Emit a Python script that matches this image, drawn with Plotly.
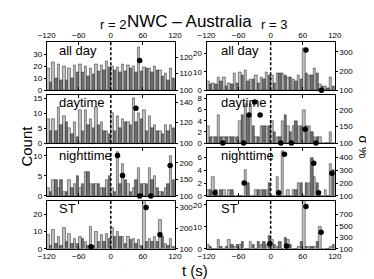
import plotly.graph_objects as go

# ---------------- data ----------------
bin_t = [-115, -105, -95, -85, -75, -65, -55, -45, -35, -25, -15, -5,
         5, 15, 25, 35, 45, 55, 65, 75, 85, 95, 105, 115]
x_ticks = [-120, -60, 0, 60, 120]
panel_names = ["all day", "daytime", "nighttime", "ST"]
column_titles = ["r = 2", "r = 3"]

# r = 2, all day
allday_r2_light = [18, 23, 22, 20, 18, 21, 22, 20, 18, 22, 21, 24, 20, 19, 22, 21, 20, 36, 19, 18, 20, 17, 14, 18]
allday_r2_dark = [7, 10, 8, 8, 10, 15, 15, 12, 13, 16, 17, 19, 17, 15, 16, 18, 15, 16, 18, 15, 17, 12, 8, 10]
allday_r2_sig_t = [54]
allday_r2_sig = [118]
# r = 3, all day
allday_r3_light = [5, 4, 7, 7, 4, 9, 10, 11, 6, 8, 7, 10, 8, 9, 9, 7, 6, 8, 23, 8, 12, 3, 2, 7]
allday_r3_dark = [3, 3, 5, 2, 3, 4, 8, 5, 6, 4, 6, 8, 4, 9, 8, 7, 5, 6, 9, 8, 9, 2, 1, 2]
allday_r3_sig_t = [66, 95]
allday_r3_sig = [310, 100]
# r = 2, daytime
day_r2_light = [8, 8, 12, 9, 5, 7, 11, 11, 8, 12, 7, 4, 10, 9, 8, 7, 15, 10, 11, 9, 6, 4, 6, 6]
day_r2_dark = [4, 4, 6, 7, 3, 2, 4, 6, 5, 6, 4, 3, 4, 5, 7, 6, 7, 8, 4, 5, 4, 3, 4, 5]
day_r2_sig_t = [47]
day_r2_sig = [134]
# r = 3, daytime
day_r3_light = [3, 1, 5, 1, 1, 1, 4, 7, 7, 1, 3, 3, 4, 1, 4, 3, 3, 3, 6, 3, 1, 1, 0, 2]
day_r3_dark = [1, 1, 1, 1, 1, 1, 5, 5, 3, 1, 3, 3, 2, 1, 5, 2, 4, 3, 3, 2, 1, 0, 0, 0]
day_r3_sig_t = [-89.5, -50.7, -40.6, -29.9, -19.7, 19.1, 38.8, 64.5, 84.7]
day_r3_sig = [100, 100, 185, 224, 185, 100, 100, 142, 100]
# r = 2, nighttime
night_r2_light = [2, 4, 2, 1, 4, 3, 2, 6, 3, 3, 2, 4, 2, 11, 8, 3, 2, 7, 3, 7, 5, 1, 2, 10]
night_r2_dark = [1, 4, 4, 1, 2, 5, 3, 6, 3, 3, 2, 5, 1, 3, 4, 1, 4, 3, 3, 4, 2, 1, 3, 4]
night_r2_sig_t = [12.5, 22, 54, 75, 111]
night_r2_sig = [222, 162, 100, 100, 192]
# r = 3, nighttime
night_r3_light = [1, 3, 0, 1, 1, 0, 0, 4, 0, 1, 1, 1, 0, 3, 7, 1, 1, 2, 0, 2, 3, 0, 1, 5]
night_r3_dark = [1, 1, 1, 0, 1, 0, 0, 2, 0, 1, 1, 2, 0, 0, 0, 0, 1, 2, 2, 6, 2, 0, 0, 4]
night_r3_sig_t = [-104.4, -49.5, 15, 25.7, 80.6, 89.6, 114.6]
night_r3_sig = [125, 200, 125, 425, 355, 125, 278]
# r = 2, ST
st_r2_light = [8, 11, 7, 12, 9, 6, 7, 4, 13, 10, 8, 9, 12, 10, 7, 7, 6, 5, 30, 6, 7, 17, 3, 6]
st_r2_dark = [2, 3, 2, 4, 3, 3, 6, 2, 2, 4, 4, 6, 7, 7, 3, 5, 3, 2, 4, 4, 4, 7, 2, 1]
st_r2_sig_t = [-37, 66, 92]
st_r2_sig = [110, 300, 168]
# r = 3, ST
st_r3_light = [2, 0, 4, 0, 4, 1, 2, 0, 3, 0, 2, 2, 4, 1, 0, 4, 0, 1, 25, 1, 1, 10, 0, 1]
st_r3_dark = [1, 0, 1, 1, 2, 2, 3, 0, 2, 3, 3, 6, 2, 3, 5, 2, 0, 3, 1, 1, 3, 0, 0, 2]
st_r3_sig_t = [-1.5, 29.8, 66, 94.3]
st_r3_sig = [185, 146, 840, 390]

# axis ranges / ticks (count axis, sigma axis)
count_range = [[0, 40], [0, 26], [0, 16], [0, 8.6], [0, 12], [0, 7.5], [0, 28], [0, 21.8]]
count_ticks = [[0, 10, 20, 30], [0, 10, 20], [0, 5, 10, 15], [0, 2, 4, 6, 8],
               [0, 5, 10], [0, 2, 4, 6], [0, 10, 20], [0, 10, 20]]
sig_range = [[100, 129], [100, 350], [100, 147], [100, 245], [100, 245], [100, 475], [100, 333], [100, 940]]
sig_ticks = [[100, 110, 120], [100, 200, 300], [100, 120, 140], [100, 150, 200],
             [100, 150, 200], [100, 200, 300, 400], [100, 200, 300], [100, 300, 500, 700]]

panels = [
    (allday_r2_light, allday_r2_dark, allday_r2_sig_t, allday_r2_sig),
    (allday_r3_light, allday_r3_dark, allday_r3_sig_t, allday_r3_sig),
    (day_r2_light, day_r2_dark, day_r2_sig_t, day_r2_sig),
    (day_r3_light, day_r3_dark, day_r3_sig_t, day_r3_sig),
    (night_r2_light, night_r2_dark, night_r2_sig_t, night_r2_sig),
    (night_r3_light, night_r3_dark, night_r3_sig_t, night_r3_sig),
    (st_r2_light, st_r2_dark, st_r2_sig_t, st_r2_sig),
    (st_r3_light, st_r3_dark, st_r3_sig_t, st_r3_sig),
]

# ---------------- layout geometry ----------------
W, H = 374, 279
col_px = [(31, 165), (198, 332)]
label_dx = [12, 14]
row_px = [(34, 83), (88, 137), (142, 191), (196, 245)]
FONT = "Liberation Sans, Arial, sans-serif"

fig = go.Figure()
layout = dict(
    width=W, height=H, margin=dict(l=0, r=0, t=0, b=0),
    paper_bgcolor="white", plot_bgcolor="white", showlegend=False,
    font=dict(family=FONT, size=8, color="black"),
)
shapes = []
annotations = []

for p, (light, dark, st, sv) in enumerate(panels):
    row, col = p // 2, p % 2
    xn = "" if p == 0 else str(p + 1)
    yl = 2 * p + 1
    yr = 2 * p + 2
    yl_n = "" if yl == 1 else str(yl)
    x0, x1 = col_px[col]
    top, bot = row_px[row]
    xdom = [x0 / W, x1 / W]
    ydom = [1 - bot / H, 1 - top / H]

    fig.add_trace(go.Bar(x=bin_t, y=light, xaxis="x" + xn, yaxis="y" + yl_n,
                         offset=-4.8, width=4.6,
                         marker=dict(color="#c2c2c2", line=dict(color="#222", width=0.5))))
    fig.add_trace(go.Bar(x=bin_t, y=dark, xaxis="x" + xn, yaxis="y" + yl_n,
                         offset=0.2, width=4.6,
                         marker=dict(color="#707070", line=dict(color="#222", width=0.5))))
    fig.add_trace(go.Scatter(x=st, y=sv, xaxis="x" + xn, yaxis="y" + str(yr),
                             mode="markers", cliponaxis=False,
                             marker=dict(color="black", size=5.5)))

    xa = dict(domain=xdom, anchor="y" + yl_n, range=[-120, 120], tickvals=x_ticks,
              showline=True, linecolor="black", linewidth=0.8, mirror="ticks",
              ticks="inside", ticklen=3, tickcolor="black", showgrid=False, zeroline=False,
              tickfont=dict(size=8, family=FONT))
    if row == 0:
        xa.update(side="top", showticklabels=True)
    elif row == 3:
        xa.update(side="bottom", showticklabels=True)
    else:
        xa.update(showticklabels=False)
    layout["xaxis" + xn] = xa
    layout["yaxis" + yl_n] = dict(
        domain=ydom, anchor="x" + xn, range=count_range[p], tickvals=count_ticks[p],
        showline=True, linecolor="black", linewidth=0.8, ticks="outside", ticklen=2,
        tickcolor="black", showgrid=False, zeroline=False, tickfont=dict(size=8, family=FONT))
    layout["yaxis" + str(yr)] = dict(
        domain=ydom, anchor="x" + xn, overlaying="y" + yl_n, side="right",
        range=sig_range[p], tickvals=sig_ticks[p],
        showline=True, linecolor="black", linewidth=0.8, ticks="outside", ticklen=2,
        tickcolor="black", showgrid=False, zeroline=False, tickfont=dict(size=8, family=FONT))

    shapes.append(dict(type="line", xref="x" + xn, yref="y" + yl_n + " domain",
                       x0=0, x1=0, y0=0, y1=1, line=dict(color="black", width=1.5, dash="3px,2px")))
    annotations.append(dict(text=panel_names[row], xref="paper", yref="paper",
                            x=(x0 + label_dx[col]) / W, y=1 - (top + 8) / H,
                            xanchor="left", yanchor="middle", borderpad=0,
                            showarrow=False, font=dict(size=13, family=FONT)))

annotations += [
    dict(text="NWC \u2013 Australia", x=180 / W, y=1 - 13 / H, xref="paper", yref="paper",
         showarrow=False, font=dict(size=17, family=FONT), xanchor="center", yanchor="middle"),
    dict(text=column_titles[0], x=100 / W, y=1 - 16 / H, xref="paper", yref="paper",
         showarrow=False, font=dict(size=13, family=FONT), xanchor="center", yanchor="middle"),
    dict(text=column_titles[1], x=268 / W, y=1 - 16 / H, xref="paper", yref="paper",
         showarrow=False, font=dict(size=13, family=FONT), xanchor="center", yanchor="middle"),
    dict(text="Count", x=10 / W, y=1 - 140 / H, xref="paper", yref="paper", textangle=-90,
         showarrow=False, font=dict(size=15, family=FONT), xanchor="center", yanchor="middle"),
    dict(text="t (s)", x=186 / W, y=1 - 267 / H, xref="paper", yref="paper",
         showarrow=False, font=dict(size=15, family=FONT), xanchor="center", yanchor="middle"),
    dict(text="\u03c3 %", x=361 / W, y=1 - 141 / H, xref="paper", yref="paper", textangle=90,
         showarrow=False, font=dict(size=13, family=FONT), xanchor="center", yanchor="middle"),
]
layout["shapes"] = shapes
layout["annotations"] = annotations
layout["bargap"] = 0
fig.update_layout(**layout)
fig.write_html("out.html")
